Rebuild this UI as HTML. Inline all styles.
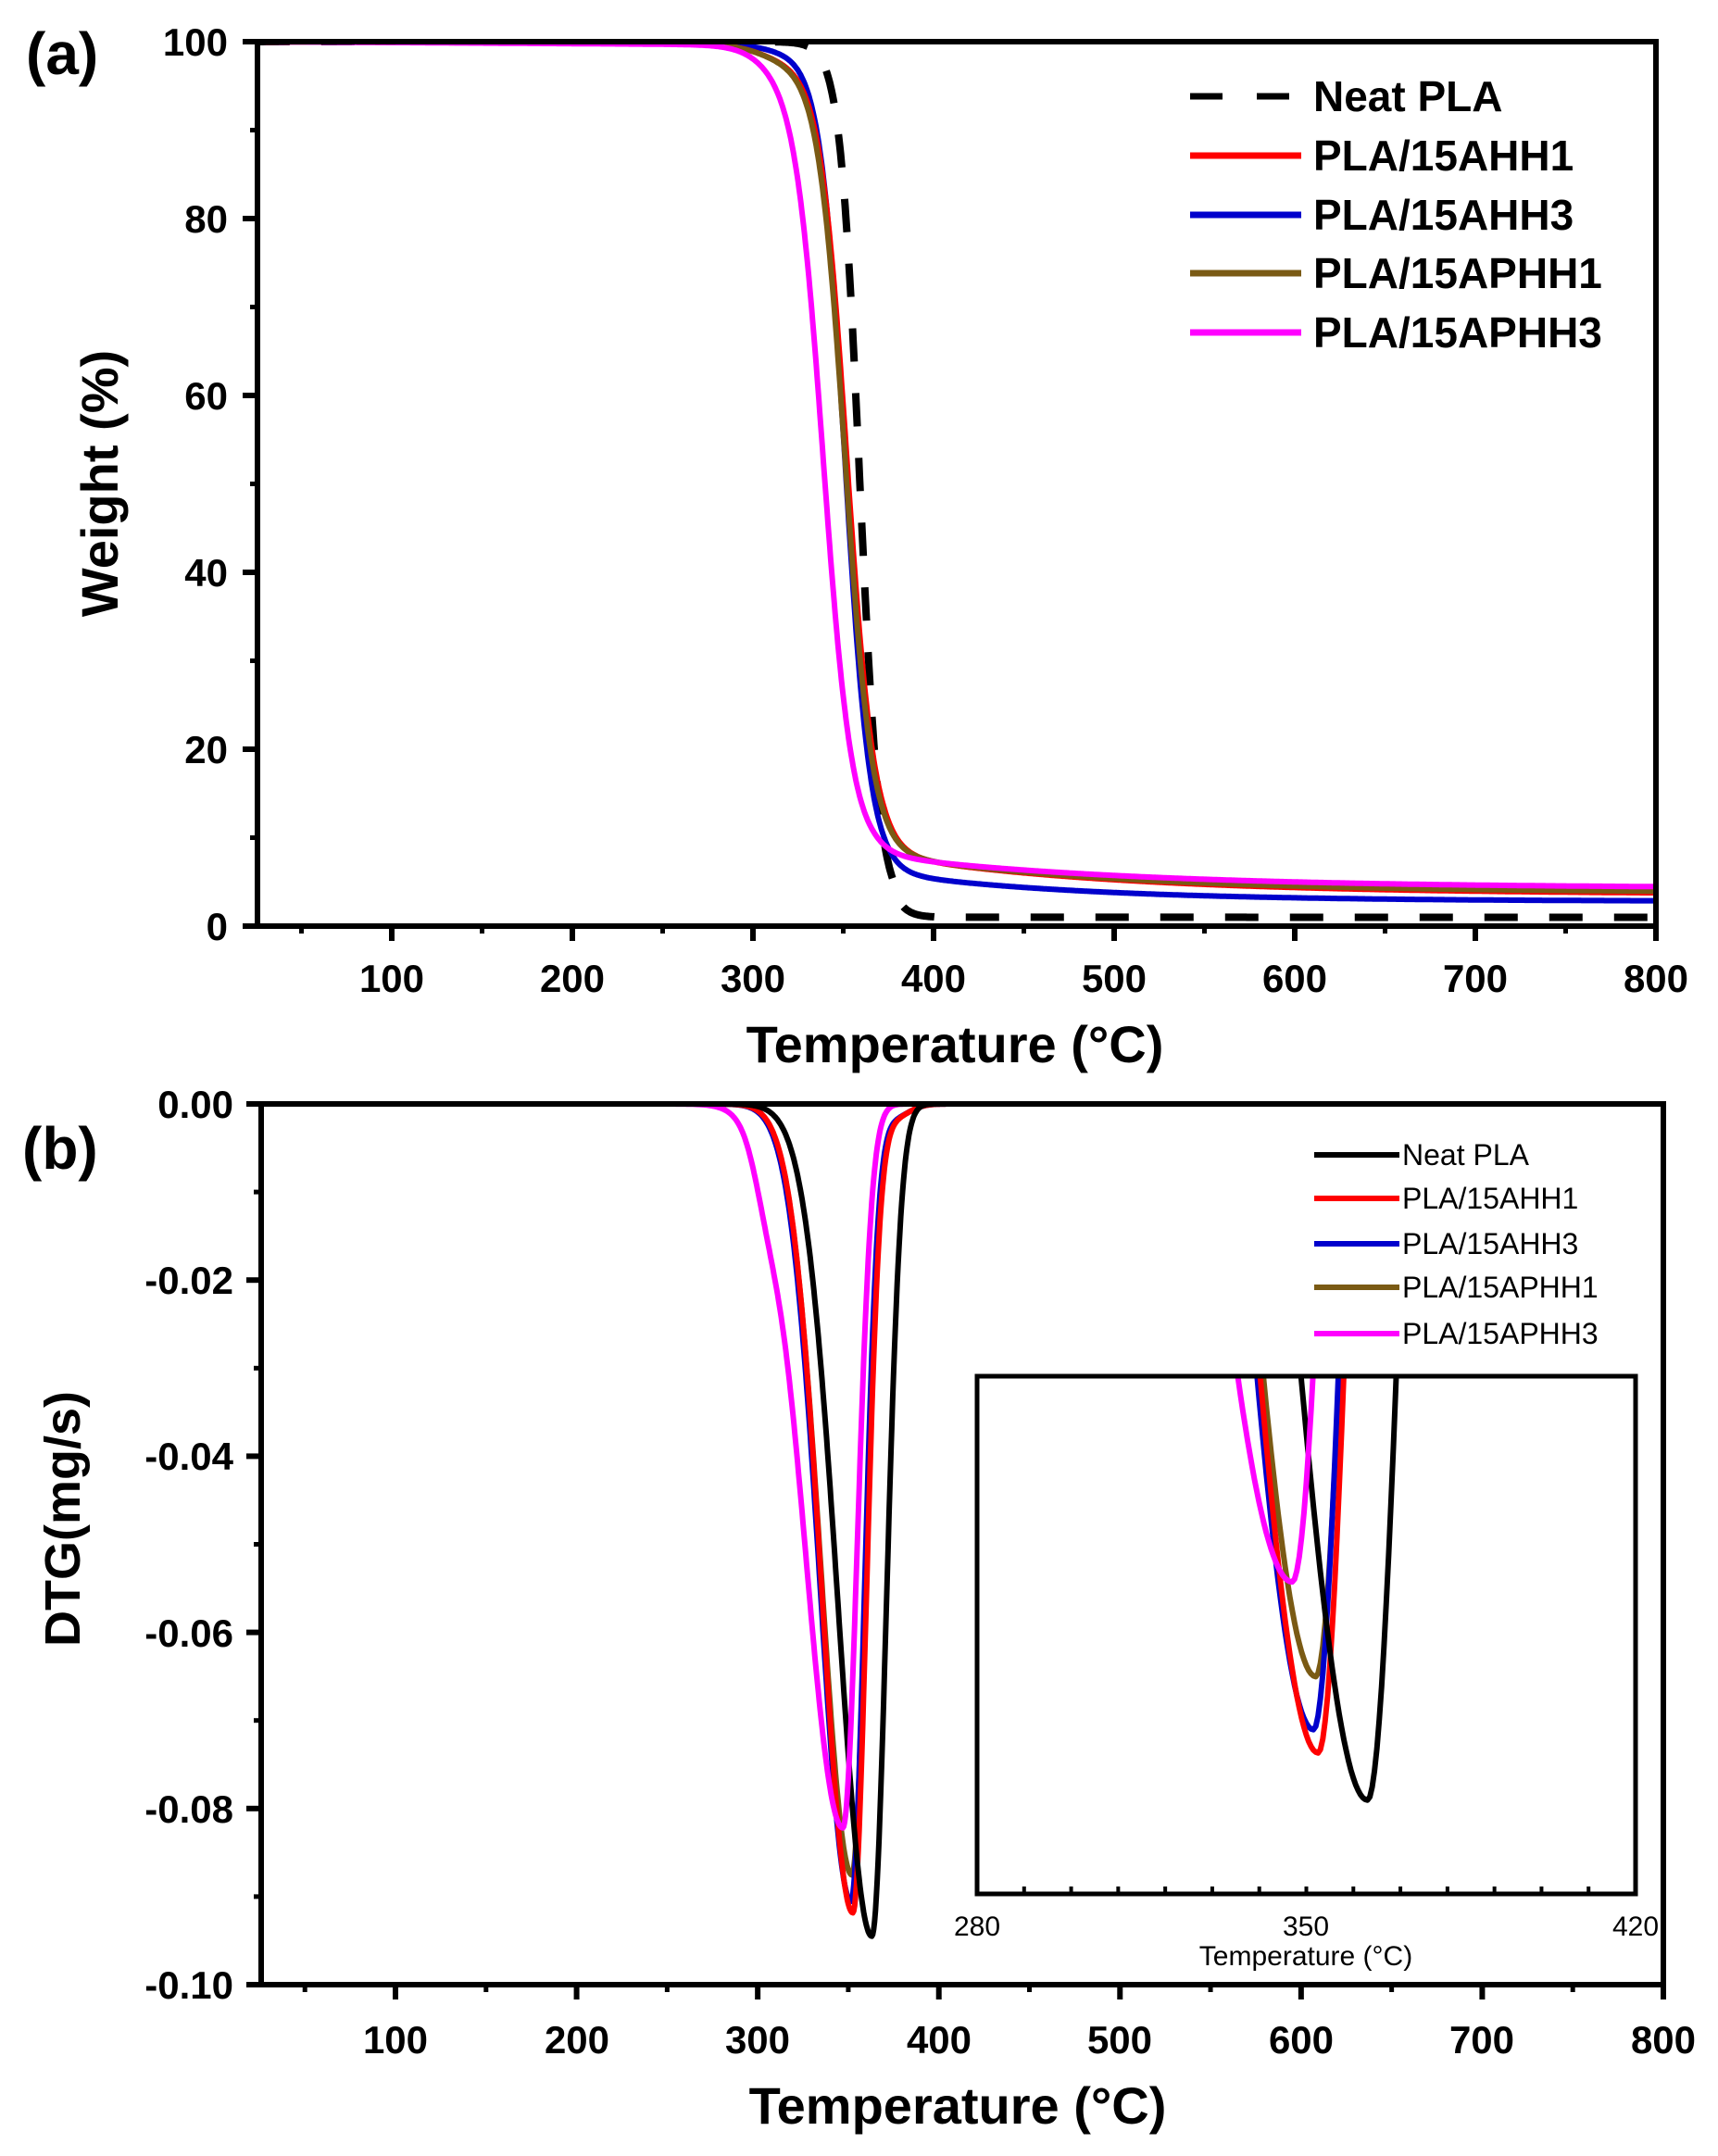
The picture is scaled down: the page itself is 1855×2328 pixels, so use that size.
<!DOCTYPE html>
<html><head><meta charset="utf-8">
<style>
html,body{margin:0;padding:0;background:#fff;}
svg{display:block;}
text{font-family:"Liberation Sans",Arial,sans-serif;fill:#000;}
</style></head>
<body>
<svg id="s" width="1855" height="2328" viewBox="0 0 1855 2328" xmlns="http://www.w3.org/2000/svg">
<defs>
<clipPath id="ca"><rect x="278" y="45" width="1510" height="955"/></clipPath>
<clipPath id="cb"><rect x="282" y="1192" width="1514" height="951"/></clipPath>
<clipPath id="ci"><rect x="1055" y="1486" width="711" height="559"/></clipPath>
</defs>
<g id="ga" clip-path="url(#ca)"></g>
<g id="gb" clip-path="url(#cb)"></g>
<rect x="1055" y="1486" width="711" height="559" fill="#fff"/>
<g id="gi" clip-path="url(#ci)"></g>
<g id="axes" stroke="#000" fill="none"></g>
<text x="28" y="80" font-size="64" font-weight="bold">(a)</text>
<g font-size="42" font-weight="bold" text-anchor="end">
<text x="246" y="60">100</text><text x="246" y="251">80</text><text x="246" y="442">60</text>
<text x="246" y="633">40</text><text x="246" y="824">20</text><text x="246" y="1015">0</text>
</g>
<g font-size="42" font-weight="bold" text-anchor="middle">
<text x="423" y="1071">100</text><text x="618" y="1071">200</text><text x="813" y="1071">300</text>
<text x="1008" y="1071">400</text><text x="1203" y="1071">500</text><text x="1398" y="1071">600</text>
<text x="1593" y="1071">700</text><text x="1788" y="1071">800</text>
</g>
<text x="1031" y="1147" font-size="56" font-weight="bold" text-anchor="middle">Temperature (°C)</text>
<text transform="translate(127,522) rotate(-90)" font-size="56" font-weight="bold" text-anchor="middle">Weight (%)</text>
<g font-size="46" font-weight="bold">
<text x="1418" y="120">Neat PLA</text><text x="1418" y="184">PLA/15AHH1</text>
<text x="1418" y="248">PLA/15AHH3</text><text x="1418" y="311">PLA/15APHH1</text>
<text x="1418" y="375">PLA/15APHH3</text>
</g>
<g stroke-width="7">
<line x1="1285" y1="104" x2="1320" y2="104" stroke="#000"/><line x1="1357" y1="104" x2="1392" y2="104" stroke="#000"/>
<line x1="1285" y1="168" x2="1405" y2="168" stroke="#f00"/>
<line x1="1285" y1="232" x2="1405" y2="232" stroke="#00c"/>
<line x1="1285" y1="295" x2="1405" y2="295" stroke="#7a5a14"/>
<line x1="1285" y1="359" x2="1405" y2="359" stroke="#f0f"/>
</g>
<text x="24" y="1262" font-size="64" font-weight="bold">(b)</text>
<g font-size="42" font-weight="bold" text-anchor="end">
<text x="252" y="1207">0.00</text><text x="252" y="1397">-0.02</text><text x="252" y="1587">-0.04</text>
<text x="252" y="1778">-0.06</text><text x="252" y="1968">-0.08</text><text x="252" y="2158">-0.10</text>
</g>
<g font-size="42" font-weight="bold" text-anchor="middle">
<text x="427" y="2217">100</text><text x="623" y="2217">200</text><text x="818" y="2217">300</text>
<text x="1014" y="2217">400</text><text x="1209" y="2217">500</text><text x="1405" y="2217">600</text>
<text x="1600" y="2217">700</text><text x="1796" y="2217">800</text>
</g>
<text x="1034" y="2293" font-size="56" font-weight="bold" text-anchor="middle">Temperature (°C)</text>
<text transform="translate(86,1640) rotate(-90)" font-size="54" font-weight="bold" text-anchor="middle">DTG(mg/s)</text>
<g font-size="32">
<text x="1514" y="1258">Neat PLA</text><text x="1514" y="1305">PLA/15AHH1</text>
<text x="1514" y="1354">PLA/15AHH3</text><text x="1514" y="1401">PLA/15APHH1</text>
<text x="1514" y="1451">PLA/15APHH3</text>
</g>
<g stroke-width="6">
<line x1="1419" y1="1247" x2="1511" y2="1247" stroke="#000"/>
<line x1="1419" y1="1294" x2="1511" y2="1294" stroke="#f00"/>
<line x1="1419" y1="1343" x2="1511" y2="1343" stroke="#00c"/>
<line x1="1419" y1="1390" x2="1511" y2="1390" stroke="#7a5a14"/>
<line x1="1419" y1="1440" x2="1511" y2="1440" stroke="#f0f"/>
</g>
<g font-size="30" text-anchor="middle">
<text x="1055" y="2090">280</text><text x="1410" y="2090">350</text><text x="1766" y="2090">420</text>
<text x="1410" y="2122">Temperature (°C)</text>
</g>
</svg>
<script>
(function(){
var NS="http://www.w3.org/2000/svg";
function el(p,t,a){var e=document.createElementNS(NS,t);for(var k in a)e.setAttribute(k,a[k]);p.appendChild(e);return e;}
var ax=function(T){return 423+(T-100)*1.95;}, ay=function(W){return 1000-W*9.55;};
function logi(T,Tm,w){return 1/(1+Math.exp((T-Tm)/w));}
function early(T,a){return a*(T-25)/775 + 2.5*a/(1+Math.exp(-(T-305)/9));}
var tga=[
 {c:"#00c",f:function(T){var r=T<372?6:2.8+3.2*Math.exp(-(T-372)/110);return r+(100-r-early(T,0.4))*logi(T,351,7);}},
 {c:"#f00",f:function(T){var r=T<372?8:3.6+4.4*Math.exp(-(T-372)/130);return r+(100-r-early(T,0.8))*logi(T,352,7.5);}},
 {c:"#7a5a14",f:function(T){var r=T<372?8:3.8+4.2*Math.exp(-(T-372)/130);return r+(100-r-early(T,0.8))*logi(T,351,7.5);}},
 {c:"#f0f",f:function(T){var r=T<367?8:4.3+3.7*Math.exp(-(T-367)/140);return r+(100-r-early(T,1.0))*logi(T,339,8);}}
];
var ga=document.getElementById("ga");
function path(g,f,X,Y,t0,t1,c,w,da){var d="";for(var T=t0;T<=t1;T+=0.5){d+=(d?"L":"M")+X(T).toFixed(1)+","+Y(f(T)).toFixed(1);}
 var a={d:d,fill:"none",stroke:c,"stroke-width":w,"stroke-linejoin":"round"};if(da)a["stroke-dasharray"]=da;el(g,"path",a);}
path(ga,function(T){var r=T<378?2:1;return r+(100-r)*logi(T,359,5.5);},ax,ay,25,800,"#000",8,"36 34");
tga.forEach(function(s){path(ga,s.f,ax,ay,25,800,s.c,6);});
var bx=function(T){return 427+(T-100)*1.9557;}, by=function(v){return 1192-v*9510;};
function pk(T,m,A,sl,sr){var s=T<m?sl:sr;return -A*Math.exp(-Math.pow((T-m)/s,2)/2);}
var dtg=[
 {c:"#7a5a14",f:function(T){return pk(T,352,0.0875,17,7.5)-0.0015*Math.exp(-Math.pow((T-375)/12,2));}},
 {c:"#00c",f:function(T){return pk(T,351.5,0.0905,17,7.5)-0.0015*Math.exp(-Math.pow((T-375)/12,2));}},
 {c:"#f00",f:function(T){return pk(T,352.5,0.0918,17,7.5)-0.0015*Math.exp(-Math.pow((T-375)/12,2));}},
 {c:"#000",f:function(T){return pk(T,363,0.0945,18.5,8);}},
 {c:"#f0f",f:function(T){return pk(T,347,0.0822,21,8)-0.004*Math.exp(-Math.pow((T-305)/10,2));}}
];
var gb=document.getElementById("gb"),gi=document.getElementById("gi");
var ix=function(T){return 1055+(T-280)*711/140;}, iy=function(v){return 1486+(-0.0706-v)*19150;};
dtg.forEach(function(s){path(gb,s.f,bx,by,25,800,s.c,6);path(gi,s.f,ix,iy,280,420,s.c,6);});
var g=document.getElementById("axes");
el(g,"rect",{x:278,y:45,width:1510,height:955,"stroke-width":6});
el(g,"rect",{x:282,y:1192,width:1514,height:951,"stroke-width":6});
el(g,"rect",{x:1055,y:1486,width:711,height:559,"stroke-width":5});
for(var i=0;i<=5;i++){var y=45+i*191;el(g,"line",{x1:262,y1:y,x2:278,y2:y,"stroke-width":6});if(i<5)el(g,"line",{x1:270,y1:y+95.5,x2:278,y2:y+95.5,"stroke-width":5});}
for(var T=50;T<=800;T+=50){var x=ax(T);el(g,"line",{x1:x,y1:1000,x2:x,y2:T%100?1008:1016,"stroke-width":T%100?5:6});}
for(var i=0;i<=5;i++){var y=1192+i*190.2;el(g,"line",{x1:266,y1:y,x2:282,y2:y,"stroke-width":6});if(i<5)el(g,"line",{x1:274,y1:y+95.1,x2:282,y2:y+95.1,"stroke-width":5});}
for(var T=50;T<=800;T+=50){var x=bx(T);el(g,"line",{x1:x,y1:2143,x2:x,y2:T%100?2151:2159,"stroke-width":T%100?5:6});}
for(var T=290;T<420;T+=10){var x=ix(T);el(g,"line",{x1:x,y1:2045,x2:x,y2:2037,"stroke-width":4});}
})();
</script>
</body></html>
